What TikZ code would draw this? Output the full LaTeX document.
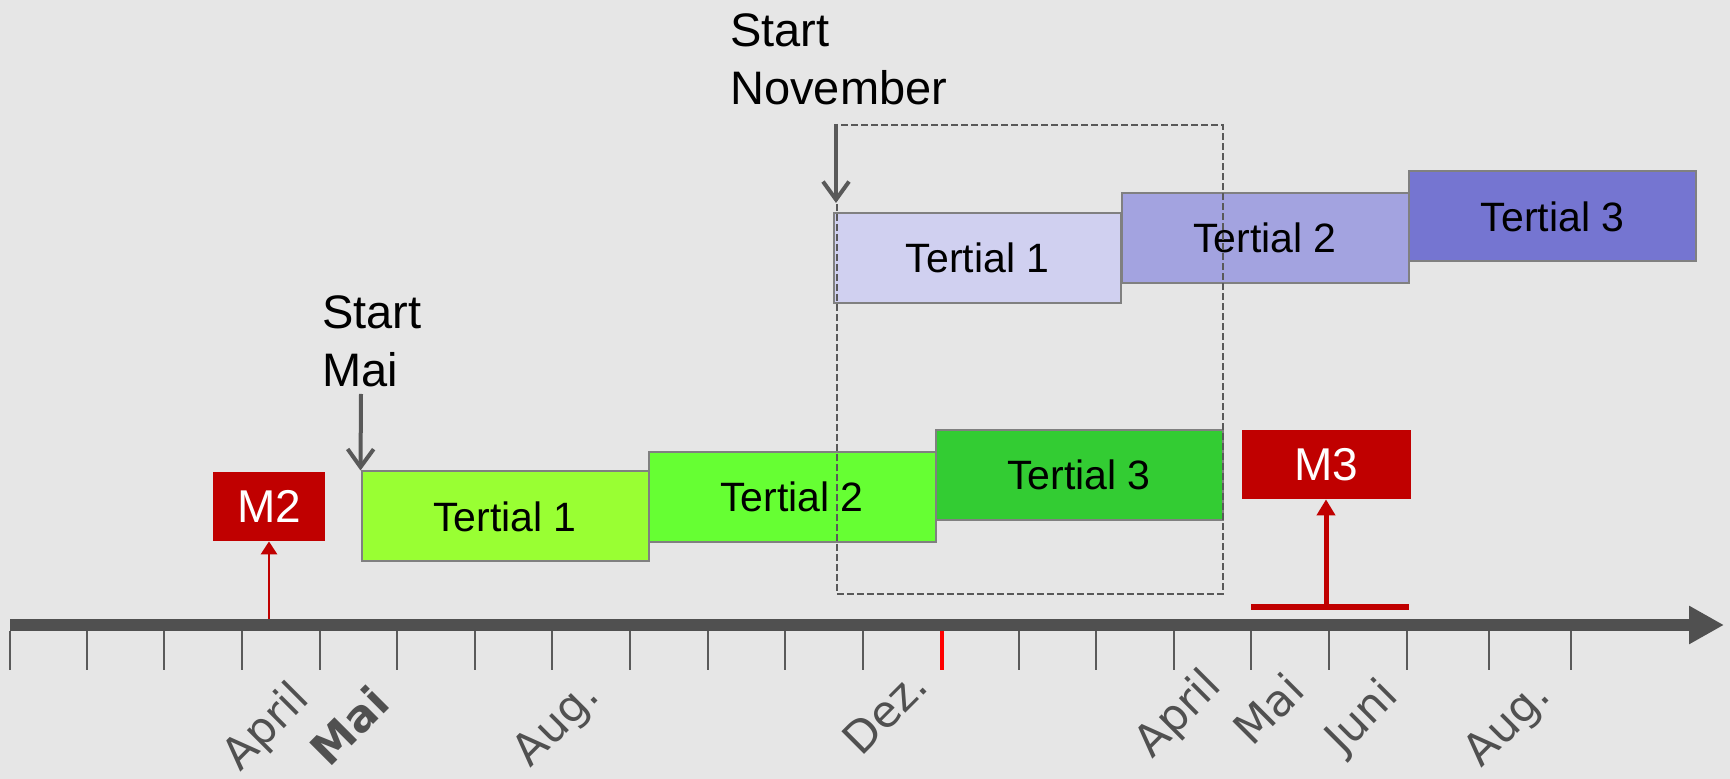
\documentclass[tikz,border=0pt]{standalone}
\usepackage{fontspec}
\setmainfont{Liberation Sans}
\newfontfamily\labelfont{DejaVu Sans}
\usetikzlibrary{arrows.meta,calc}

\definecolor{bg}{RGB}{230,230,230}
\definecolor{axisgray}{RGB}{80,80,80}
\definecolor{tickgray}{RGB}{90,90,90}
\definecolor{labelgray}{RGB}{80,80,80}
\definecolor{arrowgray}{RGB}{89,89,89}
\definecolor{boxedge}{RGB}{128,128,128}
\definecolor{mred}{RGB}{192,0,0}
\definecolor{tickred}{RGB}{255,0,0}
\definecolor{greenA}{RGB}{153,255,51}
\definecolor{greenB}{RGB}{102,255,51}
\definecolor{greenC}{RGB}{51,204,51}
\definecolor{blueA}{RGB}{208,208,240}
\definecolor{blueB}{RGB}{163,163,224}
\definecolor{blueC}{RGB}{117,117,209}

\begin{document}
\begin{tikzpicture}[x=0.5pt,y=-0.5pt,
  tbox/.style={draw=boxedge, line width=1pt, minimum width=143.5pt,
    minimum height=45pt, inner sep=0pt, font=\fontsize{20.5}{24}\selectfont},
  mbox/.style={fill=mred, text=white, inner sep=0pt, minimum height=34.5pt,
    font=\fontsize{23}{27}\selectfont},
  month/.style={rotate=45, text=labelgray, inner sep=0pt,
    font=\labelfont\fontsize{22}{26}\selectfont},
  startlabel/.style={align=left, anchor=north west, inner sep=0pt,
    font=\fontsize{23.5}{29}\selectfont},
  startarrow/.style={draw=arrowgray, line width=2pt,
    -{Straight Barb[length=9pt,width=13pt]}},
  tickmark/.style={draw=tickgray, line width=0.9pt},
  axisline/.style={draw=axisgray, line width=6pt,
    -{Triangle[length=17.5pt,width=18pt]}},
  redarrow/.style={draw=mred, line width=1.4pt,
    -{Triangle[length=6.5pt,width=8pt]}},
  redarrowbig/.style={draw=mred, line width=2.5pt,
    -{Triangle[length=8pt,width=9pt]}},
  framebox/.style={draw=arrowgray, line width=1pt,
    dash pattern=on 3.5pt off 1.5pt, inner sep=0pt, anchor=north west}
]
% background and page size
\fill[bg] (0,0) rectangle (1730,779);
\useasboundingbox (0,0) rectangle (1730,779);

% first cohort: start in May
\node[tbox, fill=greenA] (g1) at (505,516.5) {Tertial 1};
\node[tbox, fill=greenB] (g2) at (792,497) {Tertial 2};
\node[tbox, fill=greenC] (g3) at (1079,475) {Tertial 3};

% second cohort: start in November
\node[tbox, fill=blueA] (b1) at (977.5,258) {Tertial 1};
\node[tbox, fill=blueB] (b2) at (1265,238) {Tertial 2};
\node[tbox, fill=blueC] (b3) at (1552.5,216.5) {Tertial 3};

% milestones
\node[mbox, minimum width=56pt] (m2) at (269,506.5) {M2};
\node[mbox, minimum width=84.5pt] (m3) at (1326,464.5) {M3};

% start labels and their arrows
\node[startlabel] (startmai) at (322,295) {Start\\Mai};
\node[startlabel] (startnov) at (730,13) {Start\\November};
\coordinate (maiarrow) at (361,394);
\draw[startarrow] (maiarrow) -- (g1.north west);

% time axis and milestone markers
\coordinate (axisstart) at (10,625);
\coordinate (axisend) at (1724,625);
\coordinate (axistop) at (0,619);
\draw[redarrow] (m2.south |- axistop) -- (m2.south);

\coordinate (m3left) at (1251,607);
\coordinate (m3right) at (1409,607);
\draw[mred, line width=3pt] (m3left) -- (m3right);
\draw[redarrowbig] (m3.south |- m3left) -- (m3.south);

\draw[axisline] (axisstart) -- (axisend);
\foreach \x in {10,87,164,242,320,397,475,552,630,708,785,863,
                1019,1096,1174,1251,1329,1407,1489,1571}
  \draw[tickmark] (\x,631) -- (\x,670);
\draw[tickred, line width=2.2pt] (942,631) -- (942,670);

% month labels
\node[month] (apr1) at (267,728) {April};
\node[month] (mai1) at (349,726) {\bfseries Mai};
\node[month] (aug1) at (558,725) {Aug.};
\node[month] (dez)  at (885,712) {Dez.};
\node[month] (apr2) at (1179,715) {April};
\node[month] (mai2) at (1268,709) {Mai};
\node[month] (jun)  at (1363,718) {Juni};
\node[month] (aug2) at (1509,725) {Aug.};

% overlap window
\node[framebox, minimum width=193pt, minimum height=234.5pt] (frame) at (836,124) {};
\draw[startarrow, shorten >=4.5pt] (frame.north west) -- (frame.north west |- b1.north);
\end{tikzpicture}
\end{document}
